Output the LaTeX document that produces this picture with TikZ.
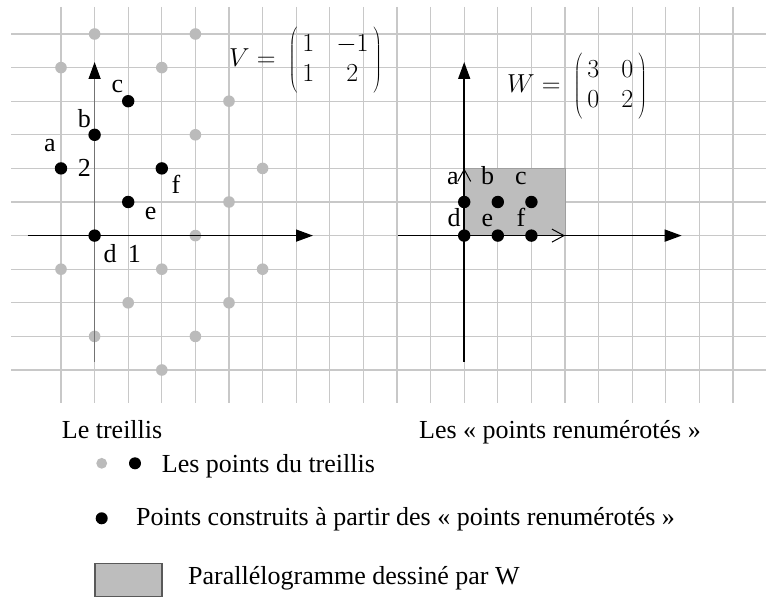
\RequirePackage{fix-cm}
\documentclass[tikz,border=0pt]{standalone}
\usepackage{fontspec}
\setmainfont{Liberation Serif}
\usetikzlibrary{arrows.meta}
\definecolor{gridc}{HTML}{C8C8C8}
\definecolor{ptgray}{HTML}{BBBBBB}
\definecolor{rectgray}{HTML}{BDBDBD}
\newcommand{\matlabel}[5]{{\fontsize{26}{30}\selectfont\delimitershortfall=-3pt\delimiterfactor=1000$#1 = \mkern4mu\left(\begin{array}{@{\hspace{5pt}}c@{\hspace{22pt}}c@{\hspace{5pt}}}#2&#3\\#4&#5\end{array}\right)$}}
\begin{document}
\begin{tikzpicture}[x=1pt,y=-1pt,
  gridline/.style={draw=gridc,line width=1.3pt},
  graydot/.style={circle,fill=ptgray,inner sep=0pt,minimum size=11.6pt},
  blackdot/.style={circle,fill=black,inner sep=0pt,minimum size=12.4pt},
  lbl/.style={font=\fontsize{26}{31}\selectfont,inner sep=0pt,anchor=base},
  txt/.style={font=\fontsize{26}{31}\selectfont,inner sep=0pt,anchor=base west},
  axis/.style={line width=1.6pt,-{Triangle[length=17pt,width=12pt]}},
  vec/.style={line width=1pt,-{Straight Barb[length=12pt,width=13pt]}},
  shade/.style={fill=rectgray,draw=gray!75,line width=0.8pt},
]
\useasboundingbox (0,0) rectangle (766,599);
% grid
\foreach \k in {0,...,20} \draw[gridline] ({61+33.6*\k},7) -- ({61+33.6*\k},403);
\foreach \j in {0,...,10} \draw[gridline] (11,{34+33.6*\j}) -- (766,{34+33.6*\j});

% ---------- left: lattice ----------
\foreach \p/\q [count=\n] in {0/6,3/6,-1/5,2/5,4/4,3/3,5/2,4/1,3/0,-1/-1,2/-1,5/-1,1/-2,4/-2,0/-3,3/-3,2/-4}
  \node[graydot] (g\n) at ({94.6+33.6*\p},{235.6-33.6*\q}) {};

\coordinate (LxS) at (27.7,235.6);
\coordinate (LxE) at (313,235.6);
\coordinate (LyS) at (94.6,361.7);
\coordinate (LyE) at (94.6,62);
\draw[axis] (LxS) -- (LxE);
\draw[line width=1.4pt,draw=black!55,-{Triangle[length=17pt,width=12pt,color=black]}] (LyS) -- (LyE);

\foreach \nm/\p/\q in {La/-1/2,Lb/0/3,Lc/1/4,Ld/0/0,Le/1/1,Lf/2/2}
  \node[blackdot] (\nm) at ({94.6+33.6*\p},{235.6-33.6*\q}) {};

\node[lbl] (tLa) at (50,152) {a};
\node[lbl] (tLb) at (84.3,127.7) {b};
\node[lbl] (tLc) at (117.3,93) {c};
\node[lbl] (tL2) at (84.3,177) {2};
\node[lbl] (tLf) at (176,193.3) {f};
\node[lbl] (tLe) at (150.7,219) {e};
\node[lbl] (tLd) at (110,262) {d};
\node[lbl] (tL1) at (134.3,262) {1};

\node[inner sep=0pt,anchor=west] (Vmat) at (229,60.5) {\matlabel{V}{1}{-1}{1}{2}};

% ---------- right: renumbered points ----------
\draw[shade] (464.2,168.4) rectangle (565,235.6);
\coordinate (RxS) at (397.7,235.6);
\coordinate (RxE) at (681.7,235.6);
\coordinate (RyS) at (464.2,361.7);
\coordinate (RyE) at (464.2,62);
\coordinate (RO) at (464.2,235.6);
\coordinate (Rv1) at (565,235.6);
\coordinate (Rv2) at (464.2,168.4);
\draw[axis] (RxS) -- (RxE);
\draw[axis] (RyS) -- (RyE);
\draw[vec] (RO) -- (Rv1);
\draw[vec] (RO) -- (Rv2);

\foreach \nm/\p/\q in {Rd/0/0,Re/1/0,Rf/2/0,Ra/0/1,Rb/1/1,Rc/2/1}
  \node[blackdot] (\nm) at ({464.2+33.6*\p},{235.6-33.6*\q}) {};

\node[lbl] (tRa) at (453,185) {a};
\node[lbl] (tRb) at (487.5,185) {b};
\node[lbl] (tRc) at (521,185) {c};
\node[lbl] (tRd) at (454,226.7) {d};
\node[lbl] (tRe) at (487.5,226.7) {e};
\node[lbl] (tRf) at (521,226.7) {f};

\node[inner sep=0pt,anchor=west] (Wmat) at (507,86.5) {\matlabel{W}{3}{0}{0}{2}};

% ---------- captions and legend ----------
\node[txt] (capL) at (61.7,438.3) {Le treillis};
\node[txt] (capR) at (419,438.3) {Les « points renumérotés »};

\node[graydot,minimum size=10.8pt] (leg1a) at (101.7,463.3) {};
\node[blackdot,minimum size=12pt] (leg1b) at (135,463.3) {};
\node[txt] (leg1t) at (161.7,472.7) {Les points du treillis};

\node[blackdot,minimum size=12pt] (leg2a) at (101.7,518.3) {};
\node[txt] (leg2t) at (136,525) {Points construits à partir des « points renumérotés »};

\draw[fill=rectgray,draw=black!65,line width=1.2pt] (95,563.3) rectangle (162,596.7);
\node[txt] (leg3t) at (188,584) {Parallélogramme dessiné par W};
\end{tikzpicture}
\end{document}
